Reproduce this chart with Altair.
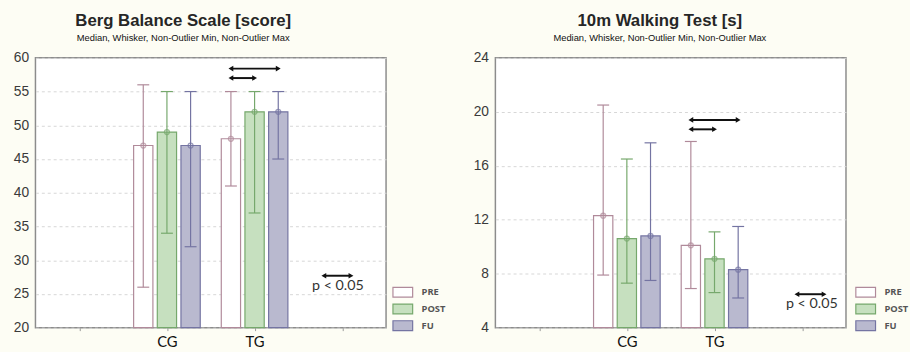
import altair as alt
import pandas as pd

# Groups, measurement occasions and summary statistics (median, non-outlier min/max)
groups = ["CG", "TG"]
series = ["PRE", "POST", "FU"]

berg_median = [47, 49, 47, 48, 52, 52]
berg_min = [26, 34, 32, 41, 37, 45]
berg_max = [56, 55, 55, 55, 55, 55]

walk_median = [12.3, 10.6, 10.8, 10.1, 9.1, 8.3]
walk_min = [7.9, 7.3, 7.5, 6.9, 6.6, 6.2]
walk_max = [20.5, 16.5, 17.7, 17.8, 11.1, 11.5]

# Styling
fill_colors = ["#ffffff", "#c6e0bf", "#b9b9cf"]
edge_colors = ["#b08a9a", "#76a86c", "#7474a2"]
edge_map = dict(zip(series, edge_colors))

BAR_HALF = 0.11
CAP_HALF = 0.068
STEP = 0.27


def summary_frame(medians, mins, maxs, floor):
    rows = []
    for gi, g in enumerate(groups):
        for si, s in enumerate(series):
            k = gi * len(series) + si
            xc = gi + 2 + (si - 1) * STEP
            rows.append(dict(group=g, series=s, median=medians[k], lo=mins[k], hi=maxs[k],
                             floor=floor, xc=xc, xl=xc - BAR_HALF, xr=xc + BAR_HALF,
                             cl=xc - CAP_HALF, cr=xc + CAP_HALF, edge=edge_map[s]))
    return pd.DataFrame(rows)


def panel(title, title_dx, medians, mins, maxs, ymin, ymax, ystep,
          arrow_y, key_x, key_y, text_x, text_y, legend_x, legend_y):
    df = summary_frame(medians, mins, maxs, ymin)
    xs = alt.Scale(domain=[0.5, 4.5], nice=False, zero=False)
    ys = alt.Scale(domain=[ymin, ymax], nice=False, zero=False)
    xaxis = alt.Axis(values=[1, 2, 3, 4], title=None, grid=False, domain=False,
                     tickSize=3, tickColor="#999999",
                     labelExpr="datum.value == 2 ? 'CG' : datum.value == 3 ? 'TG' : ''",
                     labelFont="Lato", labelFontSize=15, labelColor="#111111", labelPadding=4)
    yaxis = alt.Axis(values=list(range(ymin, ymax + 1, ystep)), title=None, grid=True,
                     gridDash=[3, 3], gridColor="#d6d6d6", ticks=False, domain=False,
                     labelFont="Liberation Sans", labelFontSize=14, labelColor="#3a3a3a",
                     labelPadding=7)
    X = lambda f: alt.X(f, scale=xs, axis=xaxis)
    Y = lambda f: alt.Y(f, scale=ys, axis=yaxis)

    # 20x10 swatch drawn from a symbol whose nominal size is 10 px
    legend = alt.Legend(title=None, orient="none", legendX=legend_x, legendY=legend_y,
                        symbolType="M-2,-1H2V1H-2Z", symbolSize=100,
                        symbolStrokeWidth=1.2, labelFont="Open Sans", labelFontSize=9.5,
                        labelFontWeight="bold", labelColor="#555555", rowPadding=1,
                        labelOffset=13, padding=0)
    base = alt.Chart(df)
    bars = base.mark_bar(strokeWidth=1.2, opacity=1).encode(
        x=X("xl:Q"), x2="xr:Q", y=Y("median:Q"), y2="floor:Q",
        fill=alt.Fill("series:N", scale=alt.Scale(domain=series, range=fill_colors), legend=legend),
        stroke=alt.Stroke("series:N", scale=alt.Scale(domain=series, range=edge_colors), legend=legend),
    )
    whisk = base.mark_rule(strokeWidth=1.2).encode(
        x=X("xc:Q"), y=Y("lo:Q"), y2="hi:Q", color=alt.Color("edge:N", scale=None))
    cap_hi = base.mark_rule(strokeWidth=1.2).encode(
        x=X("cl:Q"), x2="cr:Q", y=Y("hi:Q"), color=alt.Color("edge:N", scale=None))
    cap_lo = base.mark_rule(strokeWidth=1.2).encode(
        x=X("cl:Q"), x2="cr:Q", y=Y("lo:Q"), color=alt.Color("edge:N", scale=None))
    med = base.mark_point(shape="circle", size=24, filled=False, strokeWidth=1.4).encode(
        x=X("xc:Q"), y=Y("median:Q"), color=alt.Color("edge:N", scale=None))

    # significance arrows: TG PRE -> TG FU (upper) and TG PRE -> TG POST (lower), plus key
    tg = groups.index("TG") + 2
    arrows = pd.DataFrame(dict(
        x1=[tg - STEP, tg - STEP, key_x[0]],
        x2=[tg + STEP, tg, key_x[1]],
        y=[arrow_y[0], arrow_y[1], key_y]))
    abase = alt.Chart(arrows)
    shaft = abase.mark_rule(strokeWidth=2, color="#111111").encode(
        x=X("x1:Q"), x2="x2:Q", y=Y("y:Q"))
    head_l = abase.mark_point(shape="triangle-left", size=32, filled=True, color="#111111",
                              opacity=1).encode(x=X("x1:Q"), y=Y("y:Q"))
    head_r = abase.mark_point(shape="triangle-right", size=32, filled=True, color="#111111",
                              opacity=1).encode(x=X("x2:Q"), y=Y("y:Q"))
    note = alt.Chart(pd.DataFrame(dict(t=["p < 0.05"], x=[text_x], y=[text_y]))).mark_text(
        font="Lato", fontSize=14.5, color="#333333").encode(x=X("x:Q"), y=Y("y:Q"), text="t:N")

    return alt.layer(bars, whisk, cap_hi, cap_lo, med, shaft, head_l, head_r, note).properties(
        width=356, height=274,
        title=alt.TitleParams(text=title, subtitle="Median, Whisker, Non-Outlier Min, Non-Outlier Max",
                              font="Liberation Sans", fontSize=17, fontWeight="bold", color="#262626",
                              subtitleFont="Liberation Sans", subtitleFontSize=9.5,
                              subtitleColor="#111111", subtitlePadding=3,
                              anchor="middle", dx=title_dx, offset=8),
    )


left = panel("Berg Balance Scale [score]", -28, berg_median, berg_min, berg_max, 20, 60, 5,
             arrow_y=(58.4, 57.0), key_x=(3.79, 4.10), key_y=27.7, text_x=3.95, text_y=26.2,
             legend_x=367, legend_y=232)
right = panel("10m Walking Test [s]", -11, walk_median, walk_min, walk_max, 4, 24, 4,
              arrow_y=(19.4, 18.7), key_x=(3.94, 4.25), key_y=6.48, text_x=4.11, text_y=5.75,
              legend_x=370, legend_y=232)

chart = alt.hconcat(left, right, spacing=25).resolve_scale(
    x="independent", y="independent", fill="independent", stroke="independent"
).resolve_legend(fill="independent", stroke="independent").properties(
    background="#fdfdf4", padding={"left": 12, "top": 8, "right": 0, "bottom": 0}
).configure_view(stroke="#8c8c8c", strokeWidth=1.5, fill="white")

chart.save("out.html", embed_options={"renderer": "svg", "actions": False})
